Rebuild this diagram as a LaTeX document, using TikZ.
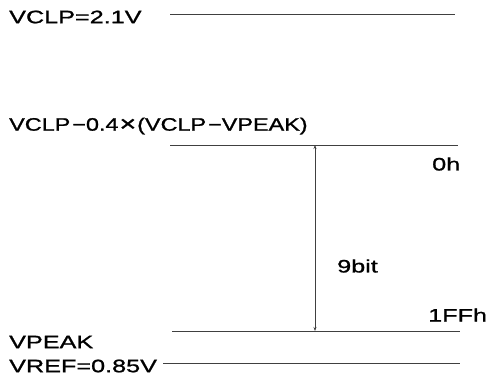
\documentclass[tikz,border=0pt]{standalone}
\usepackage{fontspec}
\setmainfont{Liberation Sans}
\newfontfamily\widefont[FakeStretch=1.4,FakeBold=1.2]{Liberation Sans}
\newfontfamily\formfont[FakeStretch=1.3,FakeBold=1.2]{Liberation Sans}
\usetikzlibrary{arrows.meta}
\newcommand{\bigtimes}{\raisebox{-0.5pt}{\fontsize{22}{22}\selectfont ×}}
\tikzset{
  lbl/.style={anchor=west, inner sep=0pt, font=\widefont\fontsize{18}{20}\selectfont},
  flbl/.style={anchor=west, inner sep=0pt, font=\formfont\fontsize{18}{20}\selectfont},
  lvl/.style={draw=black!75, line width=0.8pt},
  span/.style={draw=black!75, line width=0.7pt, {Stealth[length=4pt,width=3pt]}-{Stealth[length=4pt,width=3pt]}}
}
\begin{document}
\begin{tikzpicture}[x=1pt,y=-1pt]
\useasboundingbox (0,0) rectangle (488,381);
% labels
\node[lbl] (vclp) at (9,17) {VCLP=2.1V};
\node[flbl] (form) at (9,126) {VCLP\kern2pt−0.4\kern1pt\bigtimes\kern1pt(VCLP\kern2pt−VPEAK)};
\node[lbl] (vpeak) at (9,342) {VPEAK};
\node[lbl] (vref) at (9,366) {VREF=0.85V};
\node[lbl] (zero) at (432,164) {0h};
\node[lbl] (nine) at (337,266) {9bit};
\node[lbl] (ffh) at (428,315) {1FFh};
% level lines
\coordinate (a1) at (170,14);  \coordinate (a2) at (455,14);
\coordinate (b1) at (170,145); \coordinate (b2) at (458,145);
\coordinate (c1) at (172,331); \coordinate (c2) at (460,331);
\coordinate (d1) at (163,363); \coordinate (d2) at (460,363);
\coordinate (vt) at (315,145); \coordinate (vb) at (315,331);
\draw[lvl] (a1) -- (a2);
\draw[lvl] (b1) -- (b2);
\draw[lvl] (c1) -- (c2);
\draw[lvl] (d1) -- (d2);
\draw[span] (vt) -- (vb);
\end{tikzpicture}
\end{document}
